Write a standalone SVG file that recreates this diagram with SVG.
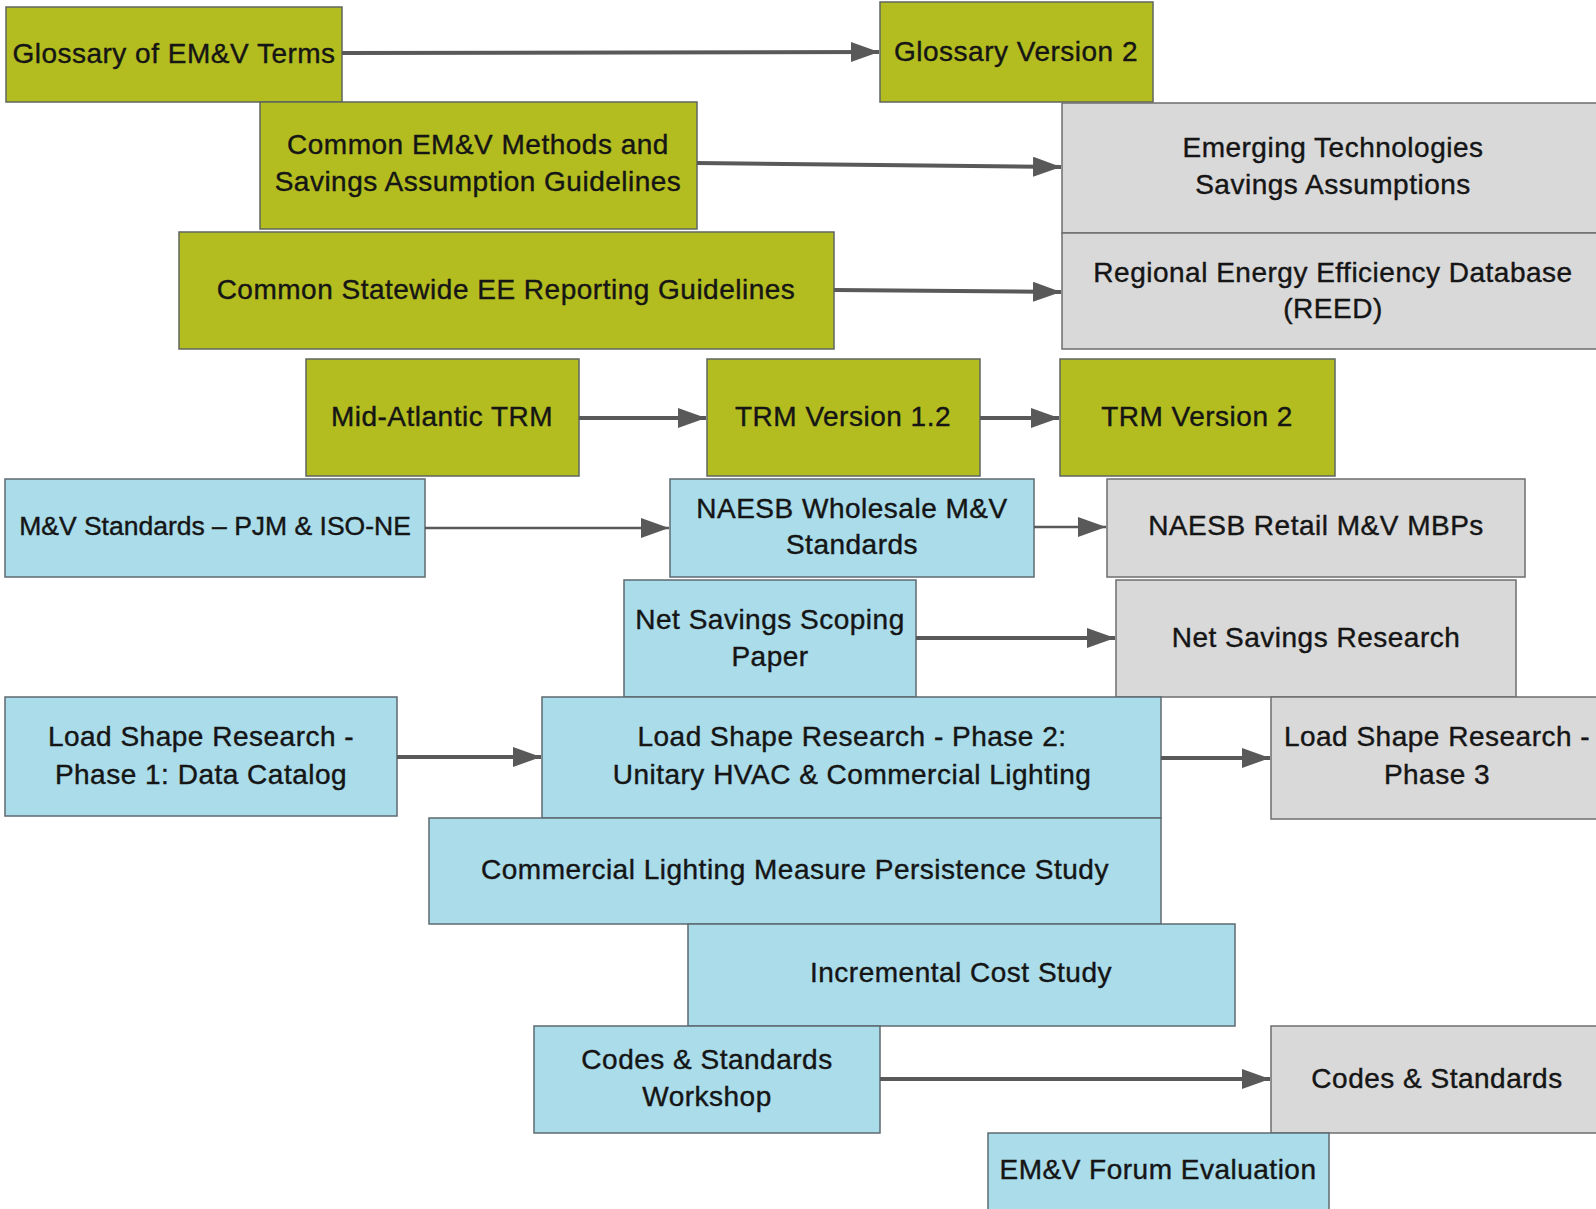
<svg xmlns="http://www.w3.org/2000/svg" width="1596" height="1209" viewBox="0 0 1596 1209">
<defs>
<style>
.g{fill:#b4bd1f;stroke:#5e6660;stroke-width:1.5}
.b{fill:#aadcea;stroke:#5e6a70;stroke-width:1.5}
.y{fill:#d9d9d9;stroke:#6e6e6e;stroke-width:1.5}
text{font-family:"Liberation Sans",Arial,sans-serif;font-size:28px;letter-spacing:0.5px;fill:#151515;stroke:#151515;stroke-width:0.4;text-anchor:middle}
.s{font-size:26.5px;letter-spacing:0}
.c{stroke:#595959;fill:none;stroke-width:4}
.t{stroke-width:2.5}
</style>
<marker id="ah" markerUnits="userSpaceOnUse" markerWidth="30" markerHeight="22" refX="28" refY="10" orient="auto">
<path d="M0,0 L28,10 L0,20 z" fill="#595959"/>
</marker>
</defs>
<rect width="1596" height="1209" fill="#ffffff"/>
<g id="n1"><rect class="g" x="6" y="7" width="336" height="95"/><text x="174" y="63">Glossary of EM&amp;V Terms</text></g>
<g id="n2"><rect class="g" x="880" y="2" width="273" height="100"/><text x="1016" y="61">Glossary Version 2</text></g>
<g id="n3"><rect class="g" x="260" y="102" width="437" height="127"/><text x="478" y="154">Common EM&amp;V Methods and</text><text x="478" y="191">Savings Assumption Guidelines</text></g>
<g id="n4"><rect class="y" x="1062" y="103" width="545" height="130"/><text x="1333" y="157">Emerging Technologies</text><text x="1333" y="194">Savings Assumptions</text></g>
<g id="n5"><rect class="g" x="179" y="232" width="655" height="117"/><text x="506" y="299">Common Statewide EE Reporting Guidelines</text></g>
<g id="n6"><rect class="y" x="1062" y="233" width="545" height="116"/><text x="1333" y="282">Regional Energy Efficiency Database</text><text x="1333" y="318">(REED)</text></g>
<g id="n7"><rect class="g" x="306" y="359" width="273" height="117"/><text x="442" y="426">Mid-Atlantic TRM</text></g>
<g id="n8"><rect class="g" x="707" y="359" width="273" height="117"/><text x="843" y="426">TRM Version 1.2</text></g>
<g id="n9"><rect class="g" x="1060" y="359" width="275" height="117"/><text x="1197" y="426">TRM Version 2</text></g>
<g id="n10"><rect class="b" x="5" y="479" width="420" height="98"/><text class="s" x="215" y="535">M&amp;V Standards – PJM &amp; ISO-NE</text></g>
<g id="n11"><rect class="b" x="670" y="479" width="364" height="98"/><text x="852" y="518">NAESB Wholesale M&amp;V</text><text x="852" y="554">Standards</text></g>
<g id="n12"><rect class="y" x="1107" y="479" width="418" height="98"/><text x="1316" y="535">NAESB Retail M&amp;V MBPs</text></g>
<g id="n13"><rect class="b" x="624" y="580" width="292" height="117"/><text x="770" y="629">Net Savings Scoping</text><text x="770" y="666">Paper</text></g>
<g id="n14"><rect class="y" x="1116" y="580" width="400" height="117"/><text x="1316" y="647">Net Savings Research</text></g>
<g id="n15"><rect class="b" x="5" y="697" width="392" height="119"/><text x="201" y="746">Load Shape Research -</text><text x="201" y="784">Phase 1: Data Catalog</text></g>
<g id="n16"><rect class="b" x="542" y="697" width="619" height="121"/><text x="852" y="746">Load Shape Research - Phase 2:</text><text x="852" y="784">Unitary HVAC &amp; Commercial Lighting</text></g>
<g id="n17"><rect class="y" x="1271" y="697" width="336" height="122"/><text x="1437" y="746">Load Shape Research -</text><text x="1437" y="784">Phase 3</text></g>
<g id="n18"><rect class="b" x="429" y="818" width="732" height="106"/><text x="795" y="879">Commercial Lighting Measure Persistence Study</text></g>
<g id="n19"><rect class="b" x="688" y="924" width="547" height="102"/><text x="961" y="982">Incremental Cost Study</text></g>
<g id="n20"><rect class="b" x="534" y="1026" width="346" height="107"/><text x="707" y="1069">Codes &amp; Standards</text><text x="707" y="1106">Workshop</text></g>
<g id="n21"><rect class="y" x="1271" y="1026" width="336" height="107"/><text x="1437" y="1088">Codes &amp; Standards</text></g>
<g id="n22"><rect class="b" x="988" y="1133" width="341" height="85"/><text x="1158" y="1179">EM&amp;V Forum Evaluation</text></g>
<g id="connectors">
<line class="c" x1="342" y1="53" x2="879" y2="52" marker-end="url(#ah)"/>
<line class="c" x1="697" y1="163" x2="1061" y2="167" marker-end="url(#ah)"/>
<line class="c" x1="834" y1="290" x2="1061" y2="292" marker-end="url(#ah)"/>
<line class="c" x1="579" y1="418" x2="706" y2="418" marker-end="url(#ah)"/>
<line class="c" x1="980" y1="418" x2="1059" y2="418" marker-end="url(#ah)"/>
<line class="c t" x1="425" y1="528" x2="669" y2="528" marker-end="url(#ah)"/>
<line class="c t" x1="1034" y1="527" x2="1106" y2="527" marker-end="url(#ah)"/>
<line class="c" x1="916" y1="638" x2="1115" y2="638" marker-end="url(#ah)"/>
<line class="c" x1="397" y1="757" x2="541" y2="757" marker-end="url(#ah)"/>
<line class="c" x1="1161" y1="758" x2="1270" y2="758" marker-end="url(#ah)"/>
<line class="c" x1="880" y1="1079" x2="1270" y2="1079" marker-end="url(#ah)"/>
</g>
</svg>
